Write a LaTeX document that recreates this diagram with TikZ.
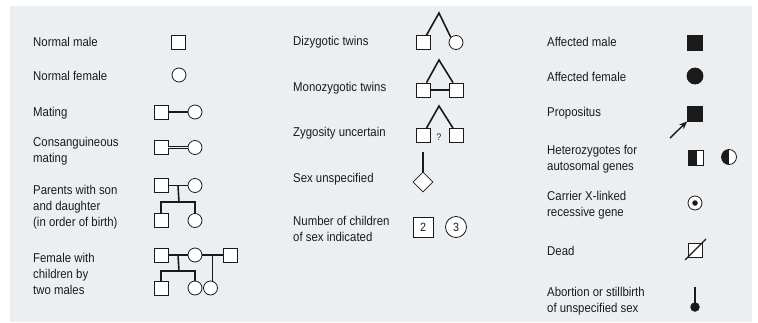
\documentclass[tikz,border=0pt]{standalone}
\usepackage{fontspec}
\setmainfont{Liberation Sans}[FakeStretch=0.89]
\usetikzlibrary{shapes.geometric,arrows.meta}
\definecolor{panel}{HTML}{ECEFF1}
\definecolor{ink}{HTML}{1A1A1A}
\begin{document}
\begin{tikzpicture}[x=1pt,y=-1pt,
  lbl/.style={font=\fontsize{12.8}{16}\selectfont, align=left, anchor=west, inner sep=0pt, text=ink},
  sq/.style={draw=ink, fill=white, rectangle, minimum size=14pt, inner sep=0pt, line width=0.8pt},
  ci/.style={draw=ink, fill=white, circle, minimum size=14pt, inner sep=0pt, line width=0.8pt},
  fsq/.style={sq, fill=ink, minimum size=15pt},
  fci/.style={ci, fill=ink, minimum size=16pt},
  lnk/.style={draw=ink, line width=1.6pt},
  numf/.style={font=\fontsize{12}{13}\selectfont, text=ink},
]
\useasboundingbox (0,0) rectangle (758,322);
\fill[panel] (10,6) rectangle (752,322);

% ---------- column 1 ----------
\node[lbl] (t1) at (33,42) {Normal male};
\node[sq] (s1) at (178,42) {};
\node[lbl] (t2) at (33,76) {Normal female};
\node[ci] (c2) at (179,75) {};
\node[lbl] (t3) at (33,113) {Mating};
\node[sq] (s3) at (161,112) {};
\node[ci] (c3) at (195,112) {};
\draw[lnk] (s3) -- (c3);
\node[lbl] (t4) at (33,151.5) {Consanguineous\\mating};
\node[sq] (s4) at (161,147.5) {};
\node[ci] (c4) at (195,147.5) {};
\draw[draw=ink, line width=1.2pt, double=panel, double distance=1.3pt] (s4) -- (c4);

\node[lbl] (t5) at (33,207) {Parents with son\\and daughter\\(in order of birth)};
\node[sq] (s5) at (161,185.5) {};
\node[ci] (c5) at (195,185.5) {};
\draw[lnk] (s5) -- (c5) coordinate[midway] (m5);
\coordinate (j5) at (179,202);
\node[sq] (s5b) at (161,220.5) {};
\node[ci] (c5b) at (195,220.5) {};
\draw[lnk] (m5) -- (j5);
\draw[lnk] (s5b) |- (j5) -| (c5b);

\node[lbl] (t6) at (33,274) {Female with\\children by\\two males};
\node[sq] (s6) at (161,255) {};
\node[ci] (c6) at (195,255) {};
\node[sq] (s6r) at (230,255) {};
\draw[lnk] (s6) -- (c6) coordinate[midway] (m6a);
\draw[lnk] (c6) -- (s6r) coordinate[midway] (m6b);
\coordinate (j6) at (179,271);
\node[sq] (s6b) at (161,288) {};
\node[ci] (c6b) at (195,288) {};
\node[ci] (c6c) at (210.5,288) {};
\draw[lnk] (m6a) -- (j6);
\draw[lnk] (s6b) |- (j6) -| (c6b);
\draw[lnk] (m6b) -- (m6b |- c6c.north);

% ---------- column 2 ----------
\node[lbl] (t7) at (293,42) {Dizygotic twins};
\node[sq] (s7) at (423.5,42.5) {};
\node[ci] (c7) at (456,42.5) {};
\coordinate (a7) at (439,13);
\draw[lnk, line join=miter] ([xshift=3pt]s7.north) -- (a7) -- (c7.north west);

\node[lbl] (t8) at (293,88) {Monozygotic twins};
\node[sq] (s8) at (423.5,90) {};
\node[sq] (s8r) at (456,90) {};
\coordinate (a8) at (439,60);
\draw[lnk, line join=miter] ([xshift=3pt]s8.north) -- (a8) -- ([xshift=-3pt]s8r.north);
\draw[lnk] (s8) -- (s8r);

\node[lbl] (t9) at (293,133) {Zygosity uncertain};
\node[sq] (s9) at (423.5,135.5) {};
\node[sq] (s9r) at (456,135.5) {};
\coordinate (a9) at (439,106);
\draw[lnk, line join=miter] ([xshift=3pt]s9.north) -- (a9) -- ([xshift=-3pt]s9r.north);
\node[font=\fontsize{9.5}{10}\selectfont, text=ink, inner sep=0pt] (q9) at (439,137) {?};

\node[lbl] (t10) at (293,179) {Sex unspecified};
\node[diamond, draw=ink, fill=white, line width=0.8pt, minimum width=20pt, minimum height=20pt, inner sep=0pt] (d10) at (423,182) {};
\coordinate (v10) at (423,152);
\draw[lnk] (v10) -- (d10.north);

\node[lbl] (t11) at (293,228.5) {Number of children\\of sex indicated};
\node[sq, minimum size=20pt, numf] (n2) at (423,227) {2};
\node[ci, minimum size=21pt, numf] (n3) at (456,227) {3};

% ---------- column 3 ----------
\node[lbl] (t12) at (547,42) {Affected male};
\node[fsq] (s12) at (695,42.5) {};
\node[lbl] (t13) at (547,77) {Affected female};
\node[fci] (c13) at (695,76) {};
\node[lbl] (t14) at (547,113) {Propositus};
\node[fsq] (s14) at (695,113.5) {};
\coordinate (p14) at (670,138);
\draw[lnk, line width=1.4pt, -{Stealth[length=8pt,width=6.5pt]}] (p14) -- (s14.south west);

\node[lbl] (t15) at (547,159) {Heterozygotes for\\autosomal genes};
\node[sq, minimum size=15pt, path picture={\fill[ink] (path picture bounding box.south west) rectangle ([xshift=1.5pt]path picture bounding box.north);}] (h15) at (695.5,157.5) {};
\node[ci, minimum size=15pt, path picture={\fill[ink] (path picture bounding box.south west) rectangle (path picture bounding box.north);}] (hc15) at (729,157) {};

\node[lbl] (t16) at (547,205.5) {Carrier X-linked\\recessive gene};
\node[ci] (c16) at (695,203) {};
\node[circle, fill=ink, minimum size=5.5pt, inner sep=0pt] (d16) at (c16) {};

\node[lbl] (t17) at (547,251) {Dead};
\node[sq] (s17) at (695,250) {};
\path (s17) ++(-10,10) coordinate (e17a);
\path (s17) ++(11,-11) coordinate (e17b);
\draw[lnk, line width=1.3pt] (e17a) -- (e17b);

\node[lbl] (t18) at (547,301) {Abortion or stillbirth\\of unspecified sex};
\coordinate (v18) at (695,287);
\node[circle, fill=ink, minimum size=9.5pt, inner sep=0pt] (b18) at (695,307) {};
\draw[lnk, line width=2.4pt] (v18) -- (b18.center);
\end{tikzpicture}
\end{document}
